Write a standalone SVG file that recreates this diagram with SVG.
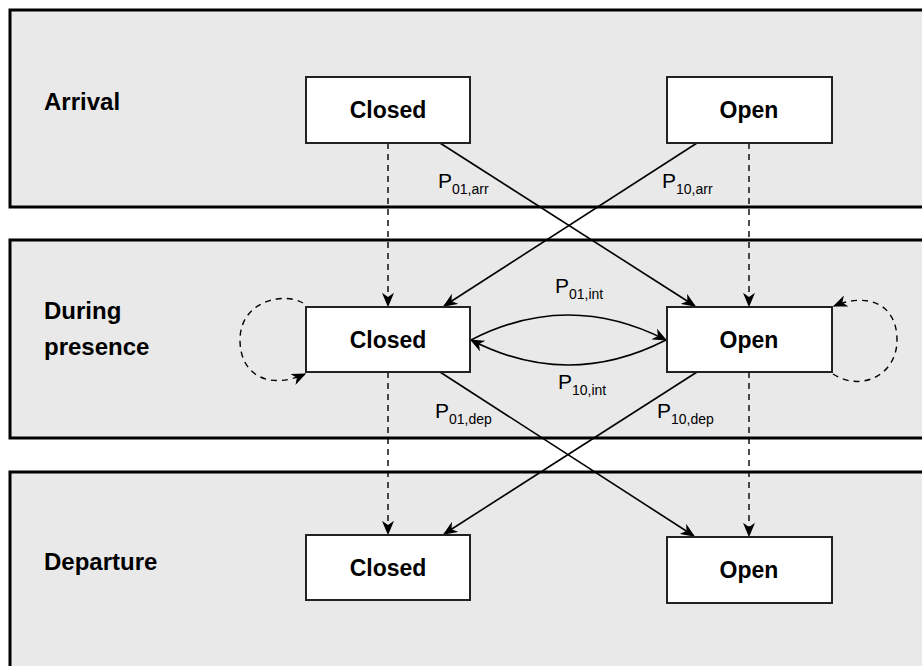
<svg xmlns="http://www.w3.org/2000/svg" width="922" height="666" viewBox="0 0 922 666">
<defs>
<marker id="ah" viewBox="0 0 12 10" refX="11" refY="5" markerWidth="15" markerHeight="12" markerUnits="userSpaceOnUse" orient="auto">
<path d="M0,0 L12,5 L0,10 L3.5,5 Z" fill="#000"/>
</marker>
<style>
.lane{fill:#e9e9e9;stroke:#000;stroke-width:3}
.box{fill:#fff;stroke:#222;stroke-width:2}
.lbl{font-family:"Liberation Sans",Arial,sans-serif;font-weight:bold;font-size:24px;fill:#000}
.nt{font-family:"Liberation Sans",Arial,sans-serif;font-weight:bold;font-size:23px;fill:#000;text-anchor:middle}
.p{font-family:"Liberation Sans",Arial,sans-serif;font-size:21px;fill:#000}
.sub{font-size:14px}
.solid{fill:none;stroke:#000;stroke-width:1.6;marker-end:url(#ah)}
.dash{fill:none;stroke:#000;stroke-width:1.4;stroke-dasharray:6,5;marker-end:url(#ah)}
</style>
</defs>
<g id="lanes">
<rect id="lane-arrival" class="lane" x="10" y="10" width="920" height="197"/>
<rect id="lane-during" class="lane" x="10" y="240" width="920" height="198"/>
<rect id="lane-departure" class="lane" x="10" y="472" width="920" height="210"/>
<text class="lbl" x="44" y="110">Arrival</text>
<text class="lbl" x="44" y="319">During</text>
<text class="lbl" x="44" y="355">presence</text>
<text class="lbl" x="44" y="570">Departure</text>
</g>
<g id="connectors">
<path class="dash" d="M388,143 L388,306"/>
<path class="dash" d="M749,143 L749,306"/>
<path class="dash" d="M388,372 L388,534"/>
<path class="dash" d="M749,372 L749,536"/>
<path class="solid" d="M440,143 L695,306"/>
<path class="solid" d="M697,143 L444,306"/>
<path class="solid" d="M440,372 L694,536"/>
<path class="solid" d="M697,372 L444,534"/>
<path class="solid" d="M471,340 Q568,290 666,340"/>
<path class="solid" d="M666,340 Q568,390 471,340"/>
<path class="dash" d="M303,303 C285,292 240,300 240,340 C240,376 270,390 305,374"/>
<path class="dash" d="M833,374 C860,392 897,376 897,340 C897,304 868,292 834,306"/>
<text class="p" x="438" y="188">P<tspan class="sub" dy="6">01,arr</tspan></text>
<text class="p" x="662" y="188">P<tspan class="sub" dy="6">10,arr</tspan></text>
<text class="p" x="555" y="293">P<tspan class="sub" dy="6">01,int</tspan></text>
<text class="p" x="558" y="389">P<tspan class="sub" dy="6">10,int</tspan></text>
<text class="p" x="435" y="418">P<tspan class="sub" dy="6">01,dep</tspan></text>
<text class="p" x="657" y="418">P<tspan class="sub" dy="6">10,dep</tspan></text>
</g>
<g id="arr-closed"><rect class="box" x="306" y="77" width="164" height="66"/><text class="nt" x="388" y="118">Closed</text></g>
<g id="arr-open"><rect class="box" x="667" y="77" width="165" height="66"/><text class="nt" x="749" y="118">Open</text></g>
<g id="dur-closed"><rect class="box" x="306" y="307" width="164" height="65"/><text class="nt" x="388" y="348">Closed</text></g>
<g id="dur-open"><rect class="box" x="667" y="307" width="165" height="65"/><text class="nt" x="749" y="348">Open</text></g>
<g id="dep-closed"><rect class="box" x="306" y="535" width="164" height="65"/><text class="nt" x="388" y="576">Closed</text></g>
<g id="dep-open"><rect class="box" x="667" y="537" width="165" height="66"/><text class="nt" x="749" y="578">Open</text></g>
</svg>
